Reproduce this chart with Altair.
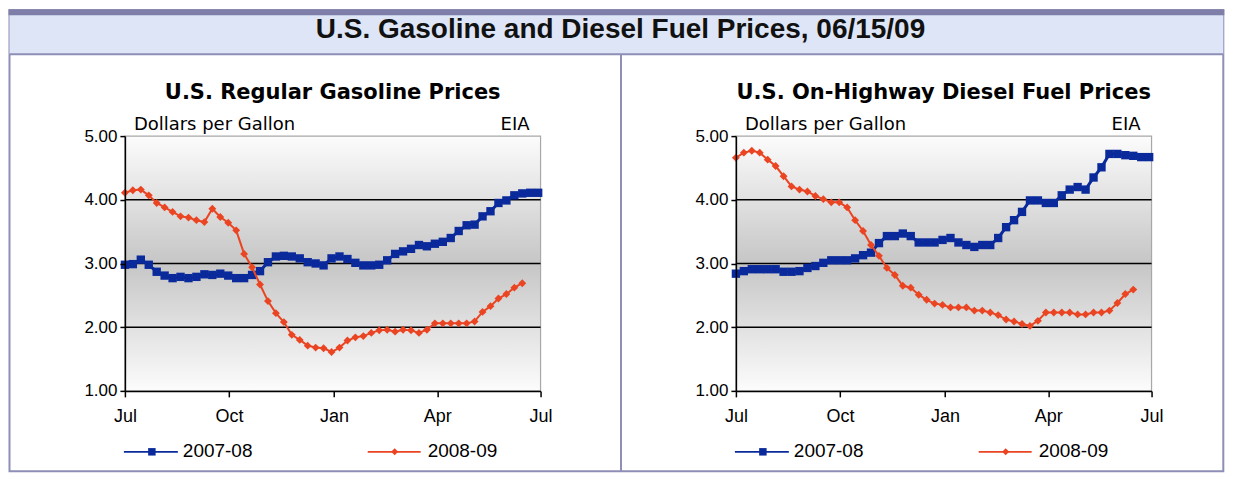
import altair as alt
import pandas as pd

# ---------------- data ----------------
months = ["Jul", "Oct", "Jan", "Apr", "Jul"]
month_weeks = [0, 13.1, 26.3, 39.3, 52.3]
series_names = ["2007-08", "2008-09"]
series_colors = ["#0A2A9C", "#EA4422"]
series_shapes = ["square", "diamond"]
y_ticks = [1, 2, 3, 4, 5]
grid_values = [2, 3, 4]

gas_2007_08 = [2.98, 2.99, 3.06, 2.98, 2.87, 2.81, 2.77, 2.79, 2.77, 2.79,
               2.83, 2.82, 2.84, 2.81, 2.77, 2.77, 2.82, 2.88, 3.02, 3.11,
               3.12, 3.11, 3.08, 3.02, 3.00, 2.97, 3.08, 3.11, 3.07, 3.01,
               2.97, 2.97, 2.98, 3.05, 3.15, 3.19, 3.23, 3.29, 3.27, 3.31,
               3.34, 3.40, 3.51, 3.60, 3.61, 3.74, 3.82, 3.95, 3.99, 4.07,
               4.10, 4.11, 4.11]
gas_2008_09 = [4.11, 4.15, 4.16, 4.07, 3.95, 3.88, 3.81, 3.74, 3.72, 3.68,
               3.65, 3.86, 3.73, 3.64, 3.52, 3.15, 2.94, 2.67, 2.41, 2.22,
               2.08, 1.88, 1.80, 1.71, 1.68, 1.67, 1.61, 1.68, 1.79, 1.84,
               1.86, 1.91, 1.95, 1.96, 1.93, 1.96, 1.95, 1.91, 1.96, 2.06,
               2.06, 2.06, 2.06, 2.06, 2.09, 2.24, 2.33, 2.45, 2.52, 2.62,
               2.69]
diesel_2007_08 = [2.84, 2.88, 2.91, 2.91, 2.91, 2.91, 2.87, 2.87, 2.88, 2.93,
                  2.96, 3.01, 3.05, 3.05, 3.05, 3.08, 3.13, 3.17, 3.32, 3.43,
                  3.43, 3.47, 3.43, 3.33, 3.33, 3.33, 3.37, 3.40, 3.33, 3.29,
                  3.26, 3.29, 3.29, 3.40, 3.57, 3.68, 3.81, 3.99, 3.99, 3.95,
                  3.95, 4.07, 4.16, 4.20, 4.16, 4.35, 4.51, 4.72, 4.72, 4.70,
                  4.69, 4.67, 4.67]
diesel_2008_09 = [4.66, 4.74, 4.77, 4.74, 4.63, 4.53, 4.37, 4.21, 4.16, 4.13,
                  4.06, 4.01, 3.96, 3.96, 3.88, 3.68, 3.51, 3.29, 3.12, 2.93,
                  2.82, 2.65, 2.62, 2.51, 2.43, 2.37, 2.35, 2.31, 2.31, 2.31,
                  2.26, 2.26, 2.23, 2.19, 2.12, 2.09, 2.05, 2.02, 2.10, 2.23,
                  2.23, 2.23, 2.23, 2.20, 2.20, 2.23, 2.23, 2.26, 2.38, 2.52,
                  2.59]

main_title = "U.S. Gasoline and Diesel Fuel Prices, 06/15/09"
panel_titles = ["U.S. Regular Gasoline Prices", "U.S. On-Highway Diesel Fuel Prices"]
unit_label = "Dollars per Gallon"
source_label = "EIA"


def long_frame(a, b):
    rows = []
    for name, vals in zip(series_names, [a, b]):
        for i, v in enumerate(vals):
            rows.append({"week": i, "price": v, "series": name})
    return pd.DataFrame(rows)


# ---------------- layout constants ----------------
W, H = 416, 255
LABEL_FONT = "Liberation Sans"
one = pd.DataFrame({"k": [0]})
LINE_W = [3.0, 2.0]
MARK_SIZE = [70, 62]

label_expr = "''"
for w, m in reversed(list(zip(month_weeks, months))):
    label_expr = f"abs(datum.value - {w}) < 0.5 ? '{m}' : {label_expr}"

x_scale = alt.Scale(domain=[0, 52.3], nice=False, zero=False)
y_scale = alt.Scale(domain=[1, 5], nice=False, zero=False)

x_axis = alt.Axis(values=month_weeks, labelExpr=label_expr, title=None, grid=False,
                  domainColor="black", domainWidth=1.5, tickColor="black", tickWidth=1.5,
                  tickSize=6, labelFont=LABEL_FONT, labelFontSize=18, labelColor="black",
                  labelPadding=11, zindex=1, labelFlush=False)
y_axis = alt.Axis(values=y_ticks, format=".2f", title=None, grid=False,
                  domainColor="black", domainWidth=1.5, tickColor="black", tickWidth=1.5,
                  tickSize=5, labelFont=LABEL_FONT, labelFontSize=17, labelColor="black",
                  labelPadding=3, zindex=1)

gradient = alt.LinearGradient(
    gradient="linear",
    stops=[alt.GradientStop(color="#fcfcfc", offset=0),
           alt.GradientStop(color="#c6c6c6", offset=0.5),
           alt.GradientStop(color="#fcfcfc", offset=1)],
    x1=0, x2=0, y1=0, y2=1)


def text_layer(txt, x, y, size, align="left", font=LABEL_FONT, weight="normal", color="black"):
    return alt.Chart(one).mark_text(text=txt, font=font, fontSize=size, fontWeight=weight,
                                    align=align, baseline="alphabetic", color=color).encode(
        x=alt.value(x), y=alt.value(y))


def rect_layer(x, x2, y, y2, **kw):
    return alt.Chart(one).mark_rect(**kw).encode(
        x=alt.value(x), x2=alt.value(x2), y=alt.value(y), y2=alt.value(y2))


def legend_layers():
    out = []
    specs = [(0, -1, 53, 27, 58), (1, 243, 296, 270, 303)]
    ly = 316
    for k, xa, xb, xm, xt in specs:
        col = series_colors[k]
        out.append(alt.Chart(one).mark_rule(color=col, strokeWidth=1.6).encode(
            x=alt.value(xa), x2=alt.value(xb), y=alt.value(ly)))
        out.append(alt.Chart(one).mark_point(shape=series_shapes[k], filled=True, color=col,
                                             size=MARK_SIZE[k] * 0.8, opacity=1).encode(
            x=alt.value(xm), y=alt.value(ly)))
        out.append(alt.Chart(one).mark_text(text=series_names[k], font=LABEL_FONT, fontSize=19,
                                            align="left", baseline="middle", color="black").encode(
            x=alt.value(xt), y=alt.value(ly - 1)))
    return out


def panel(df, title, frame=False):
    layers = []
    if frame:
        # outer frame, title band, divider (positions relative to the left plot origin)
        layers.append(rect_layer(-115.5, 1099.3, -126, 335.5, fill="white", stroke="#8e8eb6", strokeWidth=2))
        layers.append(rect_layer(-115.5, 1099.3, -126, -82, fill="#dde5f7"))
        layers.append(rect_layer(-116.5, 1100.3, -127, -121, fill="#7e7ea8"))
        layers.append(alt.Chart(one).mark_rule(color="#8e8eb6", strokeWidth=2).encode(
            x=alt.value(-115.5), x2=alt.value(1099.3), y=alt.value(-82)))
        layers.append(alt.Chart(one).mark_rule(color="#8e8eb6", strokeWidth=2).encode(
            x=alt.value(496.5), y=alt.value(-82), y2=alt.value(335.5)))
        layers.append(text_layer(main_title, 496, -98, 28, align="center", weight="bold",
                                 color="#111111"))
    layers.append(rect_layer(0, W, 0, H, fill=gradient))
    layers.append(rect_layer(0, W, 0, H, fill="transparent", stroke="#a8a8a8", strokeWidth=1.2))

    grid = alt.Chart(pd.DataFrame({"price": grid_values})).mark_rule(
        color="black", strokeWidth=1.5).encode(
        y=alt.Y("price:Q", scale=y_scale, axis=y_axis), x=alt.value(0), x2=alt.value(W))
    layers.append(grid)

    enc_x = alt.X("week:Q", scale=x_scale, axis=x_axis)
    enc_y = alt.Y("price:Q", scale=y_scale, axis=y_axis)
    color = alt.Color("series:N", scale=alt.Scale(domain=series_names, range=series_colors), legend=None)
    for k, name in enumerate(series_names):
        base = alt.Chart(df).transform_filter(alt.datum.series == name)
        layers.append(base.mark_line(strokeWidth=LINE_W[k]).encode(x=enc_x, y=enc_y, color=color))
        layers.append(base.mark_point(shape=series_shapes[k], filled=True, size=MARK_SIZE[k],
                                      opacity=1).encode(x=enc_x, y=enc_y, color=color))

    layers.append(text_layer(title, 208, -37, 21, align="center", font="DejaVu Sans", weight="bold"))
    layers.append(text_layer(unit_label, 9, -6, 18, font="DejaVu Sans"))
    layers.append(text_layer(source_label, 405, -6, 18, align="right", font="DejaVu Sans"))
    layers.extend(legend_layers())
    return alt.layer(*layers).properties(width=W, height=H)


left = panel(long_frame(gas_2007_08, gas_2008_09), panel_titles[0], frame=True)
right = panel(long_frame(diesel_2007_08, diesel_2008_09), panel_titles[1])

chart = alt.hconcat(left, right, spacing=195.5, bounds="flush").properties(
    padding=0, background="white"
).configure_view(stroke="transparent")

chart.save("out.html", embed_options={"renderer": "svg", "actions": False})
